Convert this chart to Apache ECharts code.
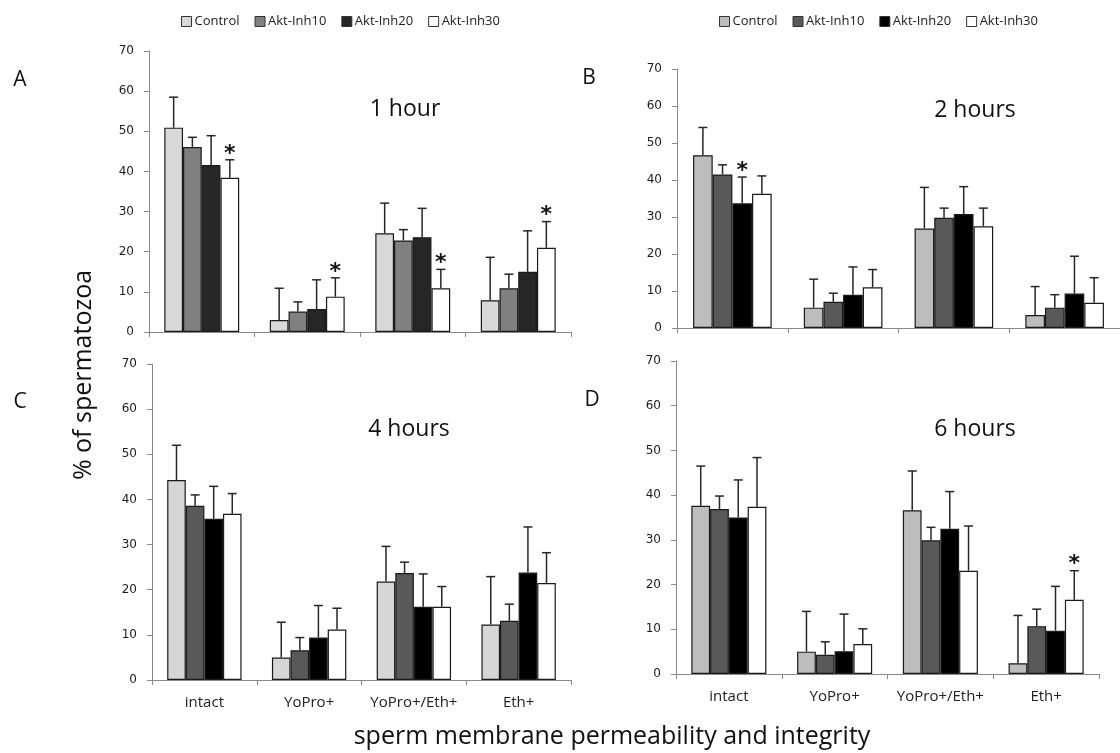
<!DOCTYPE html>
<html>
<head>
<meta charset="utf-8">
<script src="https://cdn.jsdelivr.net/npm/echarts@6/dist/echarts.min.js"></script>
<style>
html,body{margin:0;padding:0;background:#fff;}
#chart{width:1120px;height:753px;}
</style>
</head>
<body>
<div id="chart"></div>
<script>
// ---- data ----
const categories = ['intact', 'YoPro+', 'YoPro+/Eth+', 'Eth+'];
const groups = ['Control', 'Akt-Inh10', 'Akt-Inh20', 'Akt-Inh30'];
const yTicks = [0, 10, 20, 30, 40, 50, 60, 70];
const panelTitles = ['1 hour', '2 hours', '4 hours', '6 hours'];
const panelLetters = ['A', 'B', 'C', 'D'];

// rows = groups (Control, Inh10, Inh20, Inh30); columns = categories
const mean1h = [
  [50.9, 3.0, 24.6, 7.9],
  [46.1, 5.1, 22.8, 10.9],
  [41.6, 5.7, 23.6, 15.0],
  [38.4, 8.8, 10.9, 21.0]
];
const upper1h = [
  [58.5, 10.9, 32.1, 18.6],
  [48.5, 7.5, 25.5, 14.4],
  [48.9, 13.0, 30.8, 25.2],
  [42.9, 13.5, 15.6, 27.5]
];
const stars1h = [[0, 3], [1, 3], [2, 3], [3, 3]];

const mean2h = [
  [46.7, 5.5, 26.9, 3.5],
  [41.5, 7.1, 29.8, 5.5],
  [33.7, 9.0, 30.8, 9.3],
  [36.3, 11.0, 27.5, 6.8]
];
const upper2h = [
  [54.2, 13.2, 38.0, 11.2],
  [44.1, 9.4, 32.4, 9.0],
  [40.8, 16.5, 38.2, 19.4],
  [41.1, 15.8, 32.4, 13.6]
];
const stars2h = [[0, 2]];

const mean4h = [
  [44.3, 5.0, 21.8, 12.3],
  [38.6, 6.6, 23.7, 13.1],
  [35.7, 9.4, 16.2, 23.8],
  [36.8, 11.2, 16.2, 21.5]
];
const upper4h = [
  [52.0, 12.8, 29.6, 22.9],
  [41.0, 9.4, 26.1, 16.8],
  [42.9, 16.5, 23.5, 33.9],
  [41.3, 15.9, 20.7, 28.2]
];
const stars4h = [];

const mean6h = [
  [37.6, 5.0, 36.6, 2.4],
  [36.9, 4.3, 29.9, 10.7],
  [35.0, 5.1, 32.5, 9.7],
  [37.4, 6.7, 23.1, 16.6]
];
const upper6h = [
  [46.5, 14.0, 45.4, 13.1],
  [39.8, 7.2, 32.8, 14.5],
  [43.4, 13.4, 40.8, 19.6],
  [48.4, 10.1, 33.1, 23.1]
];
const stars6h = [[3, 3]];

// ---- styling ----
const panelColors = [
  ['#d9d9d9', '#808080', '#262626', '#ffffff'],
  ['#bdbdbd', '#595959', '#000000', '#ffffff'],
  ['#d6d6d6', '#595959', '#000000', '#ffffff'],
  ['#bdbdbd', '#595959', '#000000', '#ffffff']
];
const grids = [
  { left: 149, top: 51, width: 422, height: 281 },
  { left: 677, top: 69, width: 450, height: 259 },
  { left: 152, top: 364, width: 419, height: 316 },
  { left: 676, top: 361, width: 423, height: 313 }
];
const catGap = 0.29;
const tickFont = 'DejaVu Sans';
const textFont = 'Open Sans';

const panelMeans = [mean1h, mean2h, mean4h, mean6h];
const panelUppers = [upper1h, upper2h, upper4h, upper6h];
const panelStars = [stars1h, stars2h, stars4h, stars6h];

const xAxes = [], yAxes = [], series = [];
for (let p = 0; p < 4; p++) {
  xAxes.push({
    type: 'category', gridIndex: p, data: categories,
    axisLine: { lineStyle: { color: '#8a8a8a', width: 1 } },
    axisTick: { show: true, length: 5, lineStyle: { color: '#8a8a8a' } },
    axisLabel: { show: p >= 2, interval: 0, fontFamily: textFont, fontSize: 15, color: '#222', margin: 15 }
  });
  yAxes.push({
    type: 'value', gridIndex: p, min: 0, max: 70, interval: 10,
    splitLine: { show: false },
    axisLine: { show: true, lineStyle: { color: '#8a8a8a', width: 1 } },
    axisTick: { show: true, length: 5, lineStyle: { color: '#8a8a8a' } },
    axisLabel: { fontFamily: tickFont, fontSize: 12, color: '#1a1a2a', margin: 15 }
  });
  const means = panelMeans[p];
  for (let g = 0; g < 4; g++) {
    series.push({
      type: 'bar', name: groups[g], xAxisIndex: p, yAxisIndex: p,
      data: means[g],
      barGap: '0%', barCategoryGap: (catGap * 100) + '%',
      itemStyle: { color: panelColors[p][g], borderColor: '#1a1a1a', borderWidth: 1.2 },
      emphasis: { disabled: true },
      z: 2
    });
  }
  // error bars + stars
  const errData = [];
  const stars = panelStars[p];
  for (let g = 0; g < 4; g++) {
    for (let c = 0; c < 4; c++) {
      const hasStar = stars.some(s => s[0] === c && s[1] === g) ? 1 : 0;
      errData.push([c, means[g][c], panelUppers[p][g][c], g, hasStar]);
    }
  }
  series.push({
    type: 'custom', xAxisIndex: p, yAxisIndex: p,
    data: errData, encode: { x: 0, y: 2 }, z: 5, silent: true,
    renderItem: function (params, api) {
      const c = api.value(0), top = api.value(1), up = api.value(2), g = api.value(3), st = api.value(4);
      const band = api.size([1, 0])[0];
      const bw = band * (1 - catGap) / 4;
      const cx = api.coord([c, 0])[0] + (g - 1.5) * bw;
      const yTop = api.coord([c, top])[1];
      const yUp = api.coord([c, up])[1];
      const style = { stroke: '#262626', lineWidth: 1.5 };
      const children = [
        { type: 'line', shape: { x1: cx, y1: yTop, x2: cx, y2: yUp }, style: style },
        { type: 'line', shape: { x1: cx - 4.5, y1: yUp, x2: cx + 4.5, y2: yUp }, style: style }
      ];
      if (st) {
        children.push({
          type: 'text',
          style: { text: '*', x: cx, y: yUp - 6, align: 'center', verticalAlign: 'middle',
                   font: 'bold 22px "DejaVu Sans"', fill: '#111' }
        });
      }
      return { type: 'group', children: children };
    }
  });
}

function legendData(colors) {
  return groups.map((n, i) => ({ name: n, itemStyle: { color: colors[i], borderColor: '#333', borderWidth: 1 } }));
}
const legendCommon = {
  top: 10, icon: 'rect', itemWidth: 10, itemHeight: 10, itemGap: 15,
  textStyle: { fontFamily: textFont, fontSize: 13, color: '#222', padding: [0, 0, 0, -2] },
  selectedMode: false
};

const graphics = [];
const titlePos = [[405, 109], [975, 110], [409, 429], [975, 429]];
const letterPos = [[20, 80], [589, 78], [20, 402], [592, 400]];
for (let p = 0; p < 4; p++) {
  graphics.push({ type: 'text', x: titlePos[p][0], y: titlePos[p][1],
    style: { text: panelTitles[p], align: 'center', verticalAlign: 'middle', font: '23px "Open Sans"', fill: '#111' } });
  graphics.push({ type: 'text', x: letterPos[p][0], y: letterPos[p][1],
    style: { text: panelLetters[p], align: 'center', verticalAlign: 'middle', font: '21px "Open Sans"', fill: '#111' } });
}
graphics.push({ type: 'text', x: 84, y: 375, rotation: Math.PI / 2,
  style: { text: '% of spermatozoa', align: 'center', verticalAlign: 'middle', font: '25px "Open Sans"', fill: '#111' } });
graphics.push({ type: 'text', x: 612, y: 737,
  style: { text: 'sperm membrane permeability and integrity', align: 'center', verticalAlign: 'middle', font: '25px "Open Sans"', fill: '#111' } });

const chart = echarts.init(document.getElementById('chart'), null, { renderer: 'canvas' });
chart.setOption({
  animation: false,
  backgroundColor: '#fff',
  grid: grids,
  xAxis: xAxes,
  yAxis: yAxes,
  legend: [
    Object.assign({ left: 176, data: legendData(panelColors[0]) }, legendCommon),
    Object.assign({ left: 714, data: legendData(panelColors[1]) }, legendCommon)
  ],
  series: series,
  graphic: graphics
});
</script>
</body>
</html>
